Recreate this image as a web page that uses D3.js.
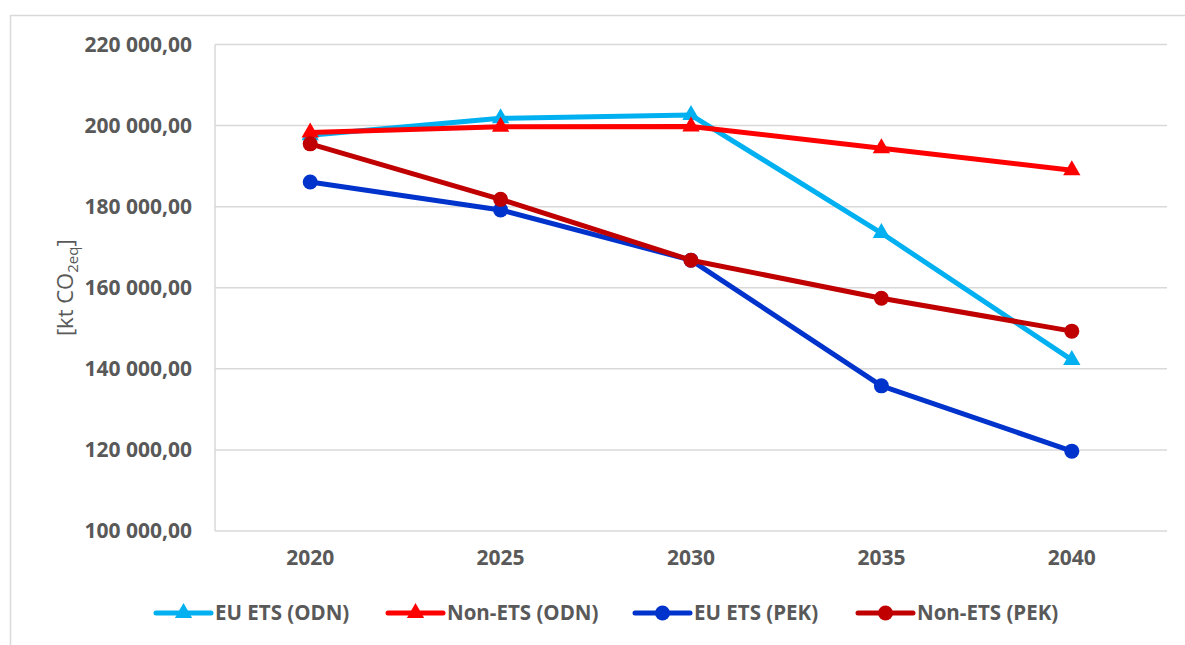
<!DOCTYPE html>
<html>
<head>
<meta charset="utf-8">
<script src="https://cdn.jsdelivr.net/npm/d3@7"></script>
<style>
  body { margin: 0; background: #fff; }
  svg { display: block; font-family: 'Open Sans', sans-serif; }
</style>
</head>
<body>
<div id="chart"></div>
<script>
// data
const years = ['2020', '2025', '2030', '2035', '2040'];
const euEtsOdn = [197600, 201800, 202600, 173500, 142200];
const nonEtsOdn = [198300, 199700, 199800, 194400, 189000];
const euEtsPek = [186100, 179200, 166800, 135800, 119700];
const nonEtsPek = [195500, 181800, 166800, 157400, 149300];
const yTicks = [100000, 120000, 140000, 160000, 180000, 200000, 220000];

const series = [
    {name: 'EU ETS (ODN)', values: euEtsOdn, colour: '#00B0F0', marker: 'triangle'},
    {name: 'Non-ETS (ODN)', values: nonEtsOdn, colour: '#FF0000', marker: 'triangle'},
    {name: 'EU ETS (PEK)', values: euEtsPek, colour: '#0033CC', marker: 'circle'},
    {name: 'Non-ETS (PEK)', values: nonEtsPek, colour: '#C00000', marker: 'circle'}
];

const WIDTH = 1185;
const HEIGHT = 645;
const plotLeft = 215, plotRight = 1167, plotTop = 44.5, plotBottom = 531;

let svg = d3.select('#chart')
.append('svg')
.attr('width', WIDTH)
.attr('height', HEIGHT);

// outer chart border
svg.append('rect')
.attr('x', 10.5).attr('y', 15.5)
.attr('width', 1200).attr('height', 700)
.attr('fill', 'none')
.attr('stroke', '#d9d9d9')
.attr('stroke-width', 1.5);

const x = d3.scaleBand().domain(years).range([plotLeft, plotRight]);
const y = d3.scaleLinear().domain([100000, 220000]).range([plotBottom, plotTop]);

// gridlines
svg.append('g')
.selectAll('line')
.data(yTicks)
.enter()
.append('line')
.attr('x1', plotLeft).attr('x2', plotRight)
.attr('y1', d => y(d)).attr('y2', d => y(d))
.attr('stroke', '#d9d9d9')
.attr('stroke-width', 1.5);

svg.append('line')
.attr('x1', plotLeft).attr('x2', plotLeft)
.attr('y1', plotTop).attr('y2', plotBottom)
.attr('stroke', '#d9d9d9')
.attr('stroke-width', 1.5);

// y axis labels
const fmt = v => d3.format(',.2f')(v).replace(/,/g, ' ').replace('.', ',');
let yAxis = svg.append('g')
.attr('transform', `translate(${plotLeft}, 0)`)
.call(d3.axisLeft(y).tickValues(yTicks).tickSize(0).tickPadding(23).tickFormat(fmt));
yAxis.select('.domain').remove();
yAxis.selectAll('text')
.style('font-family', "'Open Sans', sans-serif")
.style('font-size', '21px')
.style('font-weight', 700)
.style('fill', '#595959');

// x axis labels
let xAxis = svg.append('g')
.attr('transform', `translate(0, ${plotBottom})`)
.call(d3.axisBottom(x).tickSize(0).tickPadding(19));
xAxis.select('.domain').remove();
xAxis.selectAll('text')
.style('font-family', "'Open Sans', sans-serif")
.style('font-size', '21px')
.style('font-weight', 700)
.style('fill', '#595959');

// y axis title
let title = svg.append('text')
.attr('transform', `translate(73, ${(plotTop + plotBottom) / 2}) rotate(-90)`)
.attr('text-anchor', 'middle')
.style('font-size', '22px')
.style('fill', '#595959');
title.append('tspan').text('[kt CO');
title.append('tspan').text('2eq').attr('dy', 5).style('font-size', '15px');
title.append('tspan').text(']').attr('dy', -5);

const line = d3.line()
.x((d, i) => x(years[i]) + x.bandwidth() / 2)
.y(d => y(d));

const tri = d3.symbol().type(d3.symbolTriangle).size(130);

function drawMarker(g, s, cx, cy) {
    if (s.marker === 'triangle') {
        g.append('path')
        .attr('d', tri())
        .attr('transform', `translate(${cx}, ${cy})`)
        .attr('fill', s.colour);
    } else {
        g.append('circle')
        .attr('cx', cx).attr('cy', cy)
        .attr('r', 7.5)
        .attr('fill', s.colour);
    }
}

// lines and markers
series.forEach(s => {
    let g = svg.append('g');
    g.append('path')
    .datum(s.values)
    .attr('d', line)
    .attr('fill', 'none')
    .attr('stroke', s.colour)
    .attr('stroke-width', 5)
    .attr('stroke-linejoin', 'round');
    s.values.forEach((v, i) => {
        drawMarker(g, s, x(years[i]) + x.bandwidth() / 2, y(v));
    });
});

// legend
const legendX = [156, 388, 635, 858];
series.forEach((s, i) => {
    let g = svg.append('g').attr('transform', `translate(${legendX[i]}, 613)`);
    g.append('line')
    .attr('x1', 0).attr('x2', 55)
    .attr('y1', 0).attr('y2', 0)
    .attr('stroke', s.colour)
    .attr('stroke-width', 5)
    .attr('stroke-linecap', 'round');
    drawMarker(g, s, 27.5, 0);
    g.append('text')
    .attr('x', 59).attr('y', 7)
    .style('font-size', '20.5px')
    .style('font-weight', 700)
    .style('fill', '#595959')
    .text(s.name);
});
</script>
</body>
</html>
